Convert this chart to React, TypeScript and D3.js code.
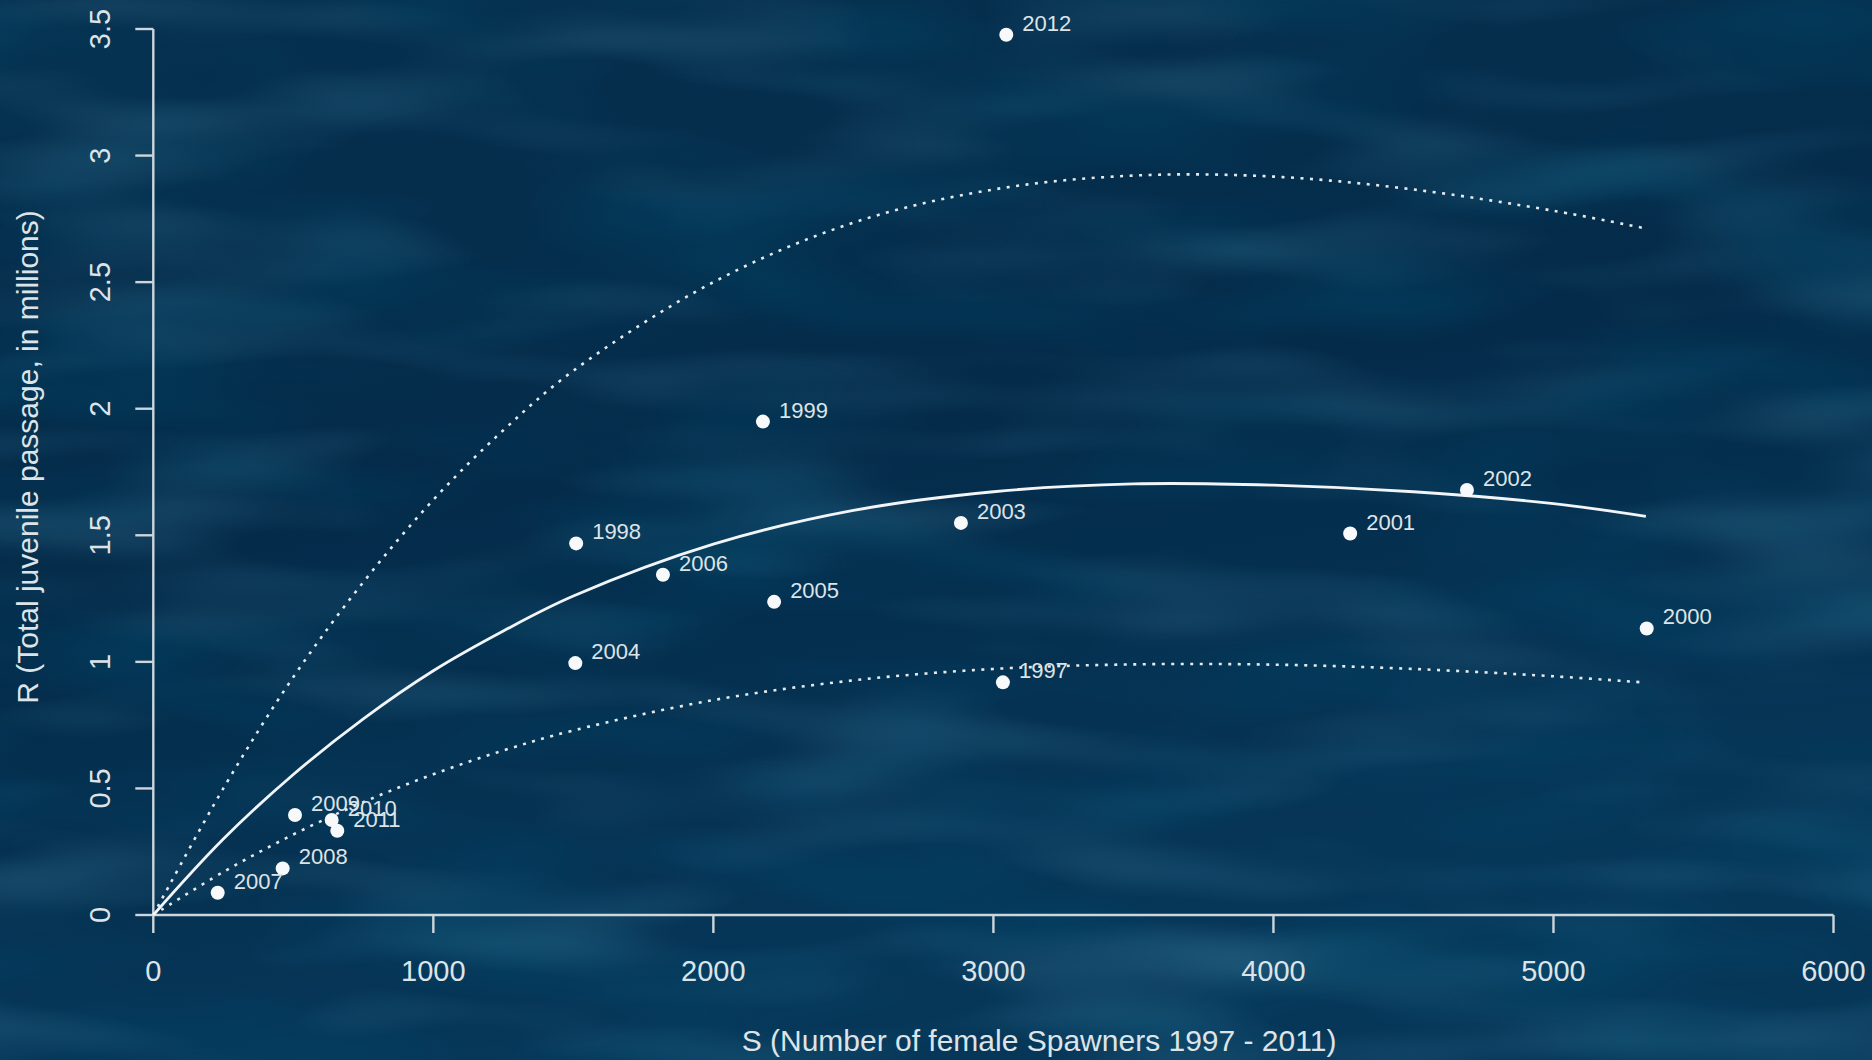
import React from "react";
import * as d3 from "d3";

// Observed points (S = female spawners, R = juveniles in millions)
const years = ["1997","1998","1999","2000","2001","2002","2003","2004","2005","2006","2007","2008","2009","2010","2011","2012"];
const spawners = [3034, 1510, 2177, 5333, 4274, 4691, 2884, 1507, 2217, 1820, 230, 462, 506, 637, 657, 3046];
const recruits = [0.919, 1.468, 1.949, 1.132, 1.507, 1.679, 1.549, 0.995, 1.237, 1.344, 0.088, 0.184, 0.395, 0.375, 0.333, 3.477];

// Fitted curve and its upper / lower bands
const curveS = [0, 250, 500, 750, 1000, 1250, 1500, 2000, 2500, 3000, 3500, 4000, 4500, 5000, 5330];
const fitR = [0, 0.30, 0.555, 0.775, 0.965, 1.122, 1.26, 1.465, 1.598, 1.672, 1.703, 1.698, 1.672, 1.625, 1.575];
const upperR = [0, 0.50, 0.94, 1.315, 1.64, 1.915, 2.15, 2.50, 2.735, 2.866, 2.921, 2.917, 2.866, 2.782, 2.712];
const lowerR = [0, 0.17, 0.318, 0.446, 0.556, 0.65, 0.729, 0.849, 0.927, 0.972, 0.99, 0.989, 0.972, 0.943, 0.918];

const xTicks = [0, 1000, 2000, 3000, 4000, 5000, 6000];
const yTicks = [0, 0.5, 1, 1.5, 2, 2.5, 3, 3.5];
const xTitle = "S (Number of female Spawners 1997 - 2011)";
const yTitle = "R (Total juvenile passage, in millions)";

const W = 1872;
const H = 1060;
const FONT = "'Liberation Sans', Arial, Helvetica, sans-serif";
const AXIS = "#cdd6dc";
const TEXT = "#dde4e8";

export default function App() {
  const x = d3.scaleLinear().domain([0, 6000]).range([153.3, 1833.5]);
  const y = d3.scaleLinear().domain([0, 3.5]).range([915, 29]);

  const line = d3
    .line<number>()
    .x((_, i) => x(curveS[i]))
    .y((d) => y(d))
    .curve(d3.curveCatmullRom.alpha(0.5));

  const x0 = x(0);
  const y0 = y(0);

  return (
    <svg
      width={W}
      height={H}
      style={{ position: "fixed", left: 0, top: 0, display: "block" }}
    >
      <defs>
        <linearGradient id="bg" x1="0" y1="0" x2="0.3" y2="1">
          <stop offset="0" stopColor="#06304f" />
          <stop offset="0.5" stopColor="#042b4a" />
          <stop offset="1" stopColor="#063759" />
        </linearGradient>
        <filter id="texLight" x="0" y="0" width="100%" height="100%">
          <feTurbulence type="fractalNoise" baseFrequency="0.003 0.014" numOctaves={2} seed={7} />
          <feColorMatrix
            type="matrix"
            values="0 0 0 0 0.08  0 0 0 0 0.30  0 0 0 0 0.45  0.7 0 0 0 -0.33"
          />
        </filter>
        <filter id="texDark" x="0" y="0" width="100%" height="100%">
          <feTurbulence type="fractalNoise" baseFrequency="0.0035 0.012" numOctaves={2} seed={21} />
          <feColorMatrix
            type="matrix"
            values="0 0 0 0 0.0  0 0 0 0 0.08  0 0 0 0 0.17  0.8 0 0 0 -0.34"
          />
        </filter>
      </defs>
      <rect x={0} y={0} width={W} height={H} fill="url(#bg)" />
      <rect x={0} y={0} width={W} height={H} filter="url(#texLight)" />
      <rect x={0} y={0} width={W} height={H} filter="url(#texDark)" />

      {/* axes */}
      <g stroke={AXIS} strokeWidth={2.4} fill="none">
        <line x1={x(0)} x2={x(6000)} y1={y0} y2={y0} />
        {xTicks.map((t) => (
          <line key={"xt" + t} x1={x(t)} x2={x(t)} y1={y0} y2={y0 + 18} />
        ))}
        <line x1={x0} x2={x0} y1={y(0)} y2={y(3.5)} />
        {yTicks.map((t) => (
          <line key={"yt" + t} x1={x0 - 18} x2={x0} y1={y(t)} y2={y(t)} />
        ))}
      </g>
      <g fill={TEXT} fontFamily={FONT} fontSize={29}>
        {xTicks.map((t) => (
          <text key={"xl" + t} x={x(t)} y={981} textAnchor="middle">
            {String(t)}
          </text>
        ))}
        {yTicks.map((t) => (
          <text
            key={"yl" + t}
            transform={`translate(110,${y(t)}) rotate(-90)`}
            textAnchor="middle"
          >
            {String(t)}
          </text>
        ))}
      </g>
      <text
        x={1039}
        y={1051}
        textAnchor="middle"
        fill={TEXT}
        fontFamily={FONT}
        fontSize={30}
      >
        {xTitle}
      </text>
      <text
        transform="translate(38,457) rotate(-90)"
        textAnchor="middle"
        fill={TEXT}
        fontFamily={FONT}
        fontSize={30}
      >
        {yTitle}
      </text>

      {/* curves */}
      <path d={line(upperR) || ""} fill="none" stroke="#e4eaee" strokeWidth={2.6} strokeDasharray="3 6.5" />
      <path d={line(lowerR) || ""} fill="none" stroke="#e4eaee" strokeWidth={2.6} strokeDasharray="3 6.5" />
      <path d={line(fitR) || ""} fill="none" stroke="#f2f5f7" strokeWidth={2.8} />

      {/* points */}
      <g>
        {years.map((yr, i) => (
          <circle key={"p" + yr} cx={x(spawners[i])} cy={y(recruits[i])} r={7} fill="#f7f9fa" />
        ))}
      </g>
      <g fill={TEXT} fontFamily={FONT} fontSize={22}>
        {years.map((yr, i) => (
          <text key={"t" + yr} x={x(spawners[i]) + 16} y={y(recruits[i]) - 4}>
            {yr}
          </text>
        ))}
      </g>
    </svg>
  );
}
